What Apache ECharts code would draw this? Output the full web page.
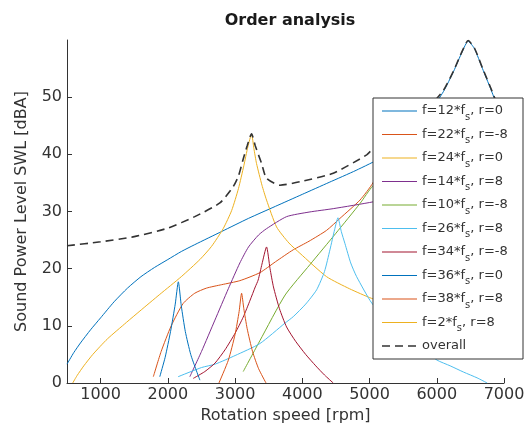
<!DOCTYPE html>
<html><head><meta charset="utf-8">
<script src="https://cdn.jsdelivr.net/npm/echarts@6/dist/echarts.min.js"></script>
<style>html,body{margin:0;padding:0;background:#fff}#c{width:528px;height:430px}</style>
</head><body><div id="c"></div>
<script>
const xTicks = [1000, 2000, 3000, 4000, 5000, 6000, 7000];
const yTicks = [0, 10, 20, 30, 40, 50];
const seriesNames = ['f=12*f_s, r=0','f=22*f_s, r=-8','f=24*f_s, r=0','f=14*f_s, r=8','f=10*f_s, r=-8','f=26*f_s, r=8','f=34*f_s, r=-8','f=36*f_s, r=0','f=38*f_s, r=8','f=2*f_s, r=8','overall'];

const o12x = [500,600,700,850,1000,1200,1400,1600,1800,2000,2200,2400,2800,3200,3600,4000,4400,4800,5200,5600,5900,6100,6250,6380,6466,6560,6680,6800,6900,7000];
const o12y = [3.3,5.3,7.0,9.3,11.4,14.2,16.6,18.6,20.2,21.6,23.0,24.2,26.5,28.8,30.9,33.0,35.1,37.2,39.6,43.5,47.5,51.0,54.5,58.0,59.8,58.5,55.0,51.5,48.5,46.0];

const o22x = [1784,1900,2050,2227,2400,2575,2800,3071,3369,3600,3865,4100,4361,4560,4858,5050,5200,5345,5500,5800,6200,6600,7000];
const o22y = [1.1,5.5,10.0,13.9,15.7,16.6,17.2,17.9,19.3,21.2,23.3,24.8,26.7,28.8,32.0,35.0,39.0,44.0,39.0,33.0,28.0,25.0,23.0];

const o24x = [585,650,750,884,1100,1384,1585,1880,2200,2477,2650,2823,2950,3050,3130,3190,3245,3280,3319,3400,3468,3617,3800,3964,4361,4700,5032,5400,5800,6200,6600,7000];
const o24y = [0,1.3,3.0,5.0,7.7,10.6,12.6,15.5,18.6,21.6,23.9,27.0,30.2,34.0,38.0,41.3,43.5,41.0,38.4,34.6,32.0,27.3,24.5,22.7,18.6,16.5,14.8,13.5,12.5,12.0,12.0,12.0];

const o14x = [2327,2500,2700,2900,3071,3200,3350,3468,3766,4100,4460,5057,5300,5571,5900,6300,7000];
const o14y = [1.1,5.5,11.0,16.5,21.0,23.8,25.9,27.0,29.1,29.9,30.5,31.7,32.5,34.0,33.0,32.0,31.0];

const o10x = [3121,3369,3745,4113,4500,4858,5050,5400,5800,6300,7000];
const o10y = [2.0,7.4,15.4,20.7,26.2,31.4,34.5,38.0,40.0,40.0,38.0];

const o26x = [2153,2500,2703,3000,3369,3745,3865,4050,4213,4330,4411,4480,4530,4580,4634,4720,4808,5032,5300,5600,5800,6004,6200,6400,6600,6750];
const o26y = [1.1,2.7,3.3,4.8,6.9,10.5,11.6,13.8,16.3,19.5,23.3,26.8,28.9,26.5,24.4,21.0,18.6,14.0,10.5,7.5,5.8,4.0,3.0,1.9,0.9,0];

const o34x = [2377,2550,2703,2850,3000,3120,3224,3300,3343,3400,3468,3520,3571,3660,3766,3900,4050,4200,4330,4460];
const o34y = [0.8,2.0,3.5,5.8,8.7,11.5,14.5,16.8,18.0,20.8,23.8,20.0,16.8,13.0,9.8,7.3,5.0,3.0,1.4,0];

const o36x = [1880,1960,2040,2110,2156,2200,2260,2340,2420,2477];
const o36y = [1.1,4.5,9.0,13.8,17.7,13.5,9.0,5.0,2.3,0.5];

const o38x = [2760,2900,3000,3060,3097,3130,3180,3260,3350,3460];
const o38y = [0,4.0,8.5,12.5,15.7,13.0,9.5,5.5,2.5,0];

const o2x = [5300,5700,6100,6500,6900];
const o2y = [8.0,10.0,11.0,12.0,13.0];

const ovx = [500,1000,1500,2000,2400,2774,2970,3050,3117,3180,3245,3300,3394,3468,3667,3964,4460,4957,5052,5300,5600,5900,6100,6250,6380,6466,6560,6680,6800,6900,7000];
const ovy = [24.0,24.7,25.6,27.1,29.1,31.5,34.3,36.2,39.0,41.5,43.6,41.5,38.4,35.8,34.6,35.2,36.7,39.9,41.0,43.0,45.5,48.5,51.2,54.6,58.1,59.9,58.6,55.1,51.7,48.8,46.5];

const xs = [o12x,o22x,o24x,o14x,o10x,o26x,o34x,o36x,o38x,o2x,ovx];
const ys = [o12y,o22y,o24y,o14y,o10y,o26y,o34y,o36y,o38y,o2y,ovy];
const colors = ['#0072BD','#D95319','#EDB120','#7E2F8E','#77AC30','#4DBEEE','#A2142F','#0072BD','#D95319','#EDB120','#333333'];

const FONT = 'DejaVu Sans';
function lineIcon(color, dashed) {
  const svg = "<svg xmlns='http://www.w3.org/2000/svg' width='35' height='14' viewBox='0 0 35 14'>" +
    "<line x1='0' y1='7' x2='35' y2='7' stroke='" + color + "' stroke-width='" + (dashed ? 1.6 : 1.2) + "'" +
    (dashed ? " stroke-dasharray='8,5'" : "") + "/></svg>";
  return 'image://data:image/svg+xml;charset=utf-8,' + encodeURIComponent(svg);
}
const series = seriesNames.map((n, i) => ({
  name: n, type: 'line', smooth: 0.2, symbol: 'none', z: 2,
  data: xs[i].map((x, k) => [x, ys[i][k]]),
  lineStyle: i === 10 ? {color: colors[i], width: 1.6, type: [8, 5]} : {color: colors[i], width: 1},
  itemStyle: {color: colors[i]}
}));

const chart = echarts.init(document.getElementById('c'), null, {renderer: 'canvas'});
chart.setOption({
  animation: false,
  backgroundColor: '#fff',
  title: {text: 'Order analysis', left: 285, top: 8, textAlign: 'center',
    textStyle: {fontFamily: FONT, fontSize: 16, fontWeight: 'bold', color: '#1a1a1a'}},
  grid: {left: 67, right: 24, top: 40, bottom: 47},
  xAxis: {type: 'value', min: 500, max: 7000,
    name: 'Rotation speed [rpm]', nameLocation: 'middle', nameGap: 19,
    nameTextStyle: {fontFamily: FONT, fontSize: 16, color: '#333'},
    axisLine: {show: true, lineStyle: {color: '#333'}},
    axisTick: {show: true, inside: true, length: 5, customValues: xTicks, lineStyle: {color: '#333'}},
    axisLabel: {customValues: xTicks, formatter: v => String(v), fontFamily: FONT, fontSize: 16, color: '#333', margin: 4},
    splitLine: {show: false}},
  yAxis: {type: 'value', min: 0, max: 60,
    name: 'Sound Power Level SWL [dBA]', nameLocation: 'middle', nameGap: 37,
    nameTextStyle: {fontFamily: FONT, fontSize: 16, color: '#333'},
    axisLine: {show: true, lineStyle: {color: '#333'}},
    axisTick: {show: true, inside: true, length: 5, customValues: yTicks, lineStyle: {color: '#333'}},
    axisLabel: {customValues: yTicks, formatter: v => String(v), fontFamily: FONT, fontSize: 16, color: '#333', margin: 5},
    splitLine: {show: false}},
  legend: {orient: 'vertical', left: 382, top: 104, padding: 0, itemWidth: 35, itemHeight: 14, itemGap: 5.5,
    data: seriesNames.map((n, i) => ({name: n, icon: lineIcon(colors[i], i === 10)})),
    formatter: n => n.replace('_s', '{s|s}'),
    textStyle: {fontFamily: FONT, fontSize: 13, color: '#333',
      rich: {s: {fontFamily: FONT, fontSize: 10, color: '#333', padding: [12, 0, 0, 0]}}}},
  graphic: [{type: 'rect', z: 3, shape: {x: 373, y: 98, width: 150, height: 261},
    style: {fill: '#fff', stroke: '#333', lineWidth: 1}}],
  series: series
});
</script></body></html>
